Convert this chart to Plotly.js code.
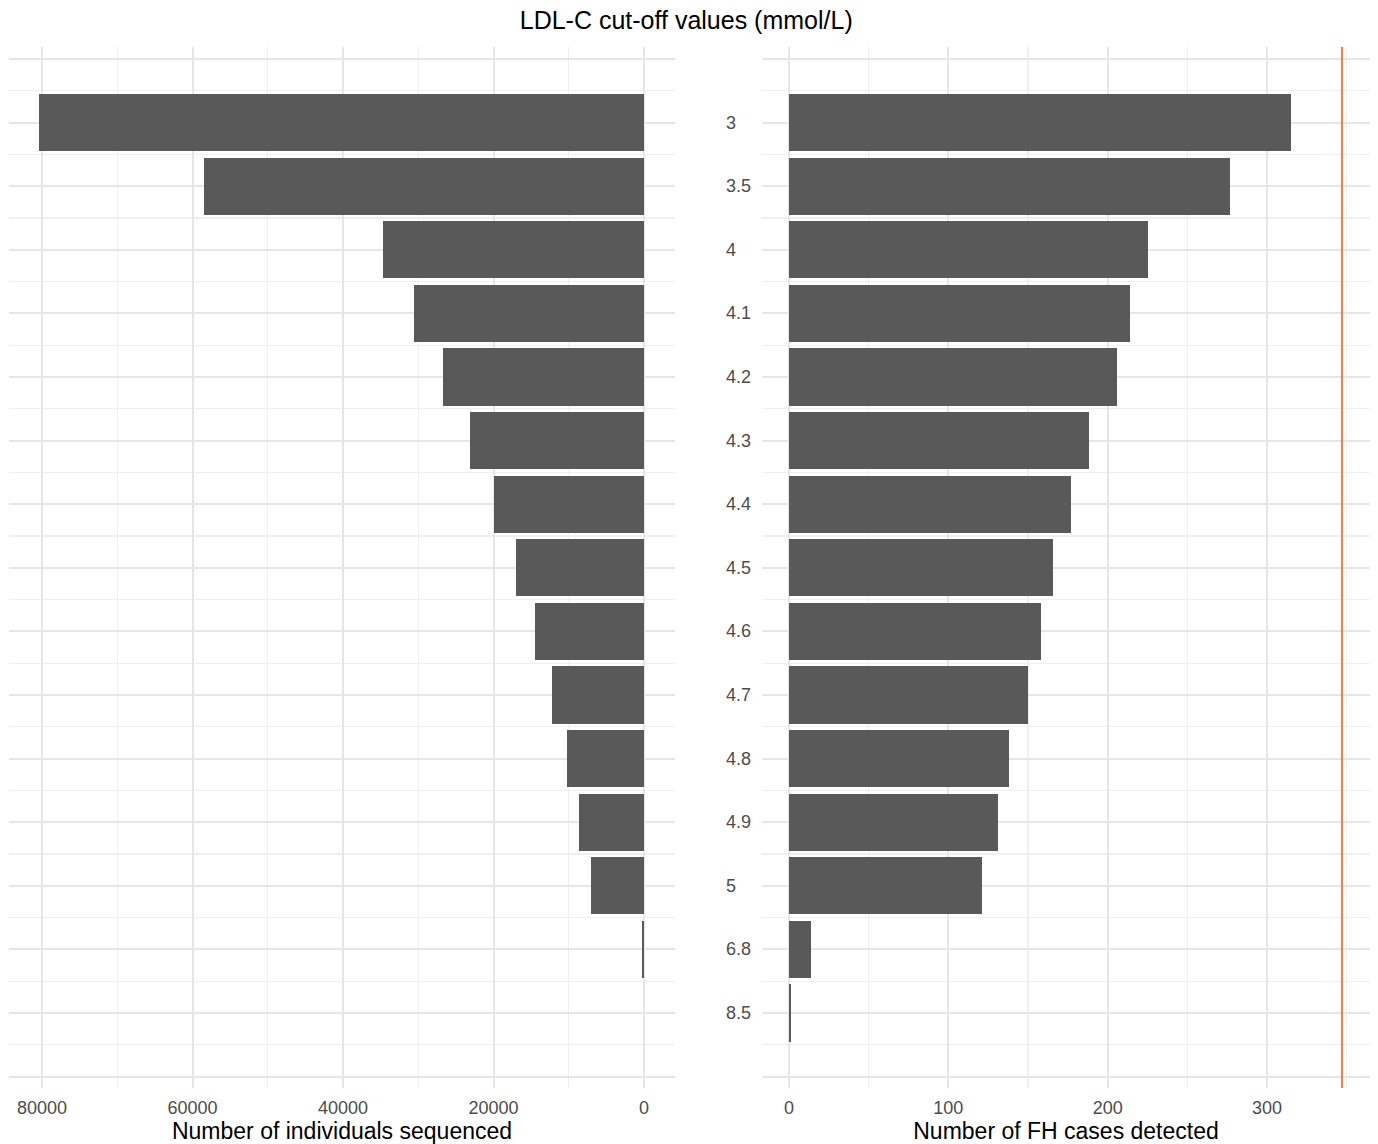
<!DOCTYPE html>
<html>
<head>
<meta charset="utf-8">
<script src="https://cdn.plot.ly/plotly-3.0.1.min.js"></script>
<style>html,body{margin:0;padding:0;background:#fff;}#chart{width:1378px;height:1144px;}</style>
</head>
<body>
<div id="chart"></div>
<script>
// Data
const cutoffs = ['3','3.5','4','4.1','4.2','4.3','4.4','4.5','4.6','4.7','4.8','4.9','5','6.8','8.5'];
const sequenced = [80400, 58500, 34700, 30600, 26700, 23100, 19900, 17000, 14500, 12200, 10200, 8600, 7000, 250, 10];
const fhDetected = [315, 277, 225, 214, 206, 188, 177, 166, 158, 150, 138, 131, 121, 14, 1];
const totalFH = 347;
const leftTicks = [0, 20000, 40000, 60000, 80000];
const leftMinor = [10000, 30000, 50000, 70000];
const rightTicks = [0, 100, 200, 300];
const rightMinor = [50, 150, 250, 350];

const pos = cutoffs.map((c, i) => i + 1);
const yTickVals = [0].concat(pos, [cutoffs.length + 1]);
const yMinor = [];
for (let i = 0; i <= cutoffs.length; i++) yMinor.push(i + 0.5);

const font = 'Liberation Sans, Arial, Helvetica, sans-serif';
const gridC = '#E6E6E6';
const minorC = '#EFEFEF';

const traces = [
  {type: 'bar', orientation: 'h', x: sequenced, y: pos, width: 0.9,
   marker: {color: '#595959', line: {width: 0}}, xaxis: 'x', yaxis: 'y', hoverinfo: 'x'},
  {type: 'bar', orientation: 'h', x: fhDetected, y: pos, width: 0.9,
   marker: {color: '#595959', line: {width: 0}}, xaxis: 'x2', yaxis: 'y2', hoverinfo: 'x'}
];

const yBase = {
  range: [cutoffs.length + 1.18, -0.19],
  tickmode: 'array', tickvals: yTickVals, showticklabels: false,
  showgrid: true, gridcolor: gridC, gridwidth: 2, zeroline: false, showline: false, ticks: '',
  minor: {tickmode: 'array', tickvals: yMinor, showgrid: true, gridcolor: minorC, gridwidth: 1.2, ticks: ''}
};

const annotations = cutoffs.map((c, i) => ({
  xref: 'paper', yref: 'y2', x: (724 - 9) / 1361, y: pos[i], xanchor: 'left', yanchor: 'middle',
  text: c, showarrow: false, font: {family: font, size: 18, color: '#4D4D4D'}
}));

const layout = {
  width: 1378, height: 1144,
  margin: {l: 9, r: 8, t: 47, b: 56},
  paper_bgcolor: '#fff', plot_bgcolor: '#fff',
  showlegend: false, bargap: 0,
  font: {family: font, color: '#4D4D4D'},
  title: {text: 'LDL-C cut-off values (mmol/L)', x: 0.498, xanchor: 'center', y: 0.9825, yanchor: 'middle',
          font: {family: font, size: 25, color: '#000'}},
  xaxis: {
    domain: [0, (675 - 9) / 1361], anchor: 'y',
    range: [84385, -4120],
    tickmode: 'array', tickvals: leftTicks, ticktext: leftTicks.map(String),
    tickfont: {family: font, size: 18, color: '#4D4D4D'},
    showgrid: true, gridcolor: gridC, gridwidth: 2, zeroline: false, showline: false, ticks: '',
    ticklabelstandoff: 7,
    minor: {tickmode: 'array', tickvals: leftMinor, showgrid: true, gridcolor: minorC, gridwidth: 1.2, ticks: ''},
    title: {text: 'Number of individuals sequenced', standoff: 3, font: {family: font, size: 23, color: '#000'}}
  },
  xaxis2: {
    domain: [(762 - 9) / 1361, 1], anchor: 'y2',
    range: [-16.9, 364.6],
    tickmode: 'array', tickvals: rightTicks, ticktext: rightTicks.map(String),
    tickfont: {family: font, size: 18, color: '#4D4D4D'},
    showgrid: true, gridcolor: gridC, gridwidth: 2, zeroline: false, showline: false, ticks: '',
    ticklabelstandoff: 7,
    minor: {tickmode: 'array', tickvals: rightMinor, showgrid: true, gridcolor: minorC, gridwidth: 1.2, ticks: ''},
    title: {text: 'Number of FH cases detected', standoff: 3, font: {family: font, size: 23, color: '#000'}}
  },
  yaxis: Object.assign({}, yBase, {anchor: 'x'}),
  yaxis2: Object.assign({}, yBase, {anchor: 'x2'}),
  shapes: [{
    type: 'line', xref: 'x2', yref: 'y2 domain', x0: totalFH, x1: totalFH, y0: 0, y1: 1,
    line: {color: '#EE7D58', width: 2}
  }],
  annotations: annotations
};

Plotly.newPlot('chart', traces, layout, {displayModeBar: false, staticPlot: true});
</script>
</body>
</html>
